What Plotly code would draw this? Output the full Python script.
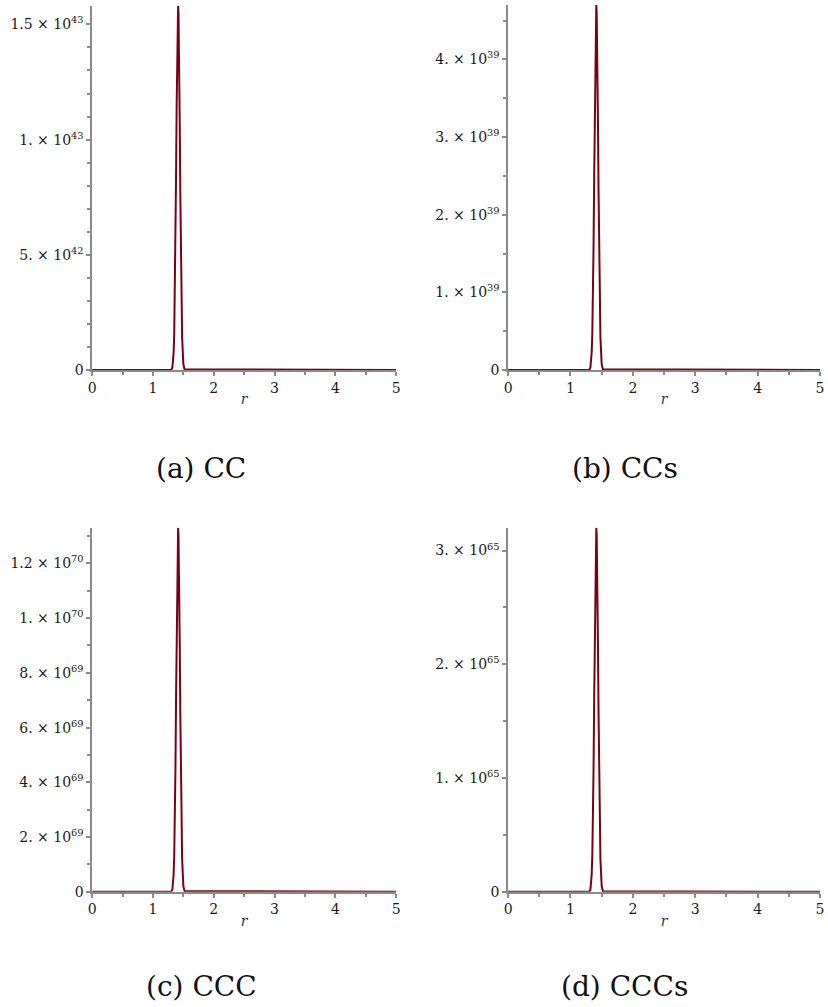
import plotly.graph_objects as go

# ---------------- data ----------------
r = [0, 1.30, 1.32, 1.34, 1.35, 1.36, 1.37, 1.38, 1.39, 1.40, 1.41, 1.414,
     1.42, 1.43, 1.44, 1.45, 1.46, 1.47, 1.48, 1.50, 1.52, 5]

cc = [0, 0, 0.011e43, 0.076e43, 0.158e43, 0.32e43, 0.54e43, 0.84e43, 1.15e43,
      1.42e43, 1.56e43, 1.58e43, 1.55e43, 1.37e43, 1.09e43, 0.77e43, 0.49e43,
      0.28e43, 0.14e43, 0.025e43, 0.003e43, 0]

ccs = [0, 0, 0.033e39, 0.23e39, 0.47e39, 0.94e39, 1.60e39, 2.49e39, 3.43e39,
       4.23e39, 4.65e39, 4.70e39, 4.61e39, 4.09e39, 3.24e39, 2.30e39, 1.46e39,
       0.85e39, 0.42e39, 0.075e39, 0.009e39, 0]

ccc = [0, 0, 0.093e69, 0.64e69, 1.33e69, 2.66e69, 4.52e69, 7.05e69, 9.71e69,
       11.97e69, 13.17e69, 13.3e69, 13.03e69, 11.57e69, 9.18e69, 6.52e69,
       4.12e69, 2.39e69, 1.20e69, 0.21e69, 0.027e69, 0]

cccs = [0, 0, 0.022e65, 0.154e65, 0.32e65, 0.64e65, 1.09e65, 1.70e65,
        2.34e65, 2.88e65, 3.17e65, 3.20e65, 3.14e65, 2.78e65, 2.21e65,
        1.57e65, 0.99e65, 0.58e65, 0.29e65, 0.051e65, 0.006e65, 0]

x_ticks = [0, 1, 2, 3, 4, 5]

cc_ticks = [0, 0.5e43, 1.0e43, 1.5e43]
cc_labels = ["0", "5. × 10<sup>42</sup>", "1. × 10<sup>43</sup>", "1.5 × 10<sup>43</sup>"]

ccs_ticks = [0, 1e39, 2e39, 3e39, 4e39]
ccs_labels = ["0", "1. × 10<sup>39</sup>", "2. × 10<sup>39</sup>",
              "3. × 10<sup>39</sup>", "4. × 10<sup>39</sup>"]

ccc_ticks = [0, 2e69, 4e69, 6e69, 8e69, 1.0e70, 1.2e70]
ccc_labels = ["0", "2. × 10<sup>69</sup>", "4. × 10<sup>69</sup>", "6. × 10<sup>69</sup>",
              "8. × 10<sup>69</sup>", "1. × 10<sup>70</sup>", "1.2 × 10<sup>70</sup>"]

cccs_ticks = [0, 1e65, 2e65, 3e65]
cccs_labels = ["0", "1. × 10<sup>65</sup>", "2. × 10<sup>65</sup>", "3. × 10<sup>65</sup>"]

captions = ["(a) CC", "(b) CCs", "(c) CCC", "(d) CCCs"]

# ---------------- layout helpers ----------------
W, H = 828, 1007
LINE = "#7a0012"
AX = "#8a8a8a"
SERIF = "DejaVu Serif"
TICKFONT = dict(family=SERIF, size=14, color="#1a1a1a")

def px_x(a, b):
    return [a / W, b / W]

def px_y(top, bottom):
    return [1 - bottom / H, 1 - top / H]

panels = [
    dict(y=cc,   ticks=cc_ticks,   labels=cc_labels,   minor=1e42,   top=1.58e43,
         xd=px_x(89, 396),  yd=px_y(6, 373)),
    dict(y=ccs,  ticks=ccs_ticks,  labels=ccs_labels,  minor=0.5e39, top=4.70e39,
         xd=px_x(509, 824), yd=px_y(5, 373)),
    dict(y=ccc,  ticks=ccc_ticks,  labels=ccc_labels,  minor=1e69,   top=1.33e70,
         xd=px_x(89, 396),  yd=px_y(532, 899)),
    dict(y=cccs, ticks=cccs_ticks, labels=cccs_labels, minor=0.5e65, top=3.20e65,
         xd=px_x(509, 824), yd=px_y(532, 899)),
]

fig = go.Figure()
layout = dict(width=W, height=H, margin=dict(l=0, r=0, t=0, b=0),
              paper_bgcolor="white", plot_bgcolor="white", showlegend=False,
              font=dict(family=SERIF))

for i, p in enumerate(panels, start=1):
    sx = "" if i == 1 else str(i)
    fig.add_trace(go.Scatter(x=r, y=p["y"], mode="lines",
                             line=dict(color=LINE, width=2),
                             xaxis="x" + sx, yaxis="y" + sx, hoverinfo="skip"))
    layout["xaxis" + sx] = dict(
        domain=p["xd"], anchor="y" + sx, range=[0, 5],
        tickmode="array", tickvals=x_ticks, ticktext=[str(v) for v in x_ticks],
        ticks="outside", ticklen=4, tickwidth=1.5, tickcolor=AX,
        showline=True, linecolor=AX, linewidth=1.5,
        showgrid=False, zeroline=False, tickfont=TICKFONT,
        minor=dict(tickmode="linear", tick0=0, dtick=0.5, ticks="outside",
                   ticklen=3, tickcolor=AX, showgrid=False),
        title=dict(text="<i>r</i>", standoff=0,
                   font=dict(family=SERIF, size=14, color="#333")),
        fixedrange=True,
    )
    layout["yaxis" + sx] = dict(
        domain=p["yd"], anchor="x" + sx, range=[0, p["top"]],
        tickmode="array", tickvals=p["ticks"], ticktext=p["labels"],
        ticks="outside", ticklen=4, tickwidth=1.5, tickcolor=AX,
        showline=True, linecolor=AX, linewidth=1.5,
        showgrid=False, zeroline=False, tickfont=TICKFONT,
        minor=dict(tickmode="linear", tick0=0, dtick=p["minor"], ticks="outside",
                   ticklen=3, tickcolor=AX, showgrid=False),
        fixedrange=True,
    )

fig.update_layout(**layout)

cap_pos = [(199, 472), (627, 472), (199, 994), (627, 994)]
for text, (cx, cy) in zip(captions, cap_pos):
    fig.add_annotation(x=cx / W, y=1 - cy / H, xref="paper", yref="paper",
                       text=text, showarrow=False, xanchor="center", yanchor="middle",
                       font=dict(family=SERIF, size=28, color="#111"))

fig.write_html("out.html")
